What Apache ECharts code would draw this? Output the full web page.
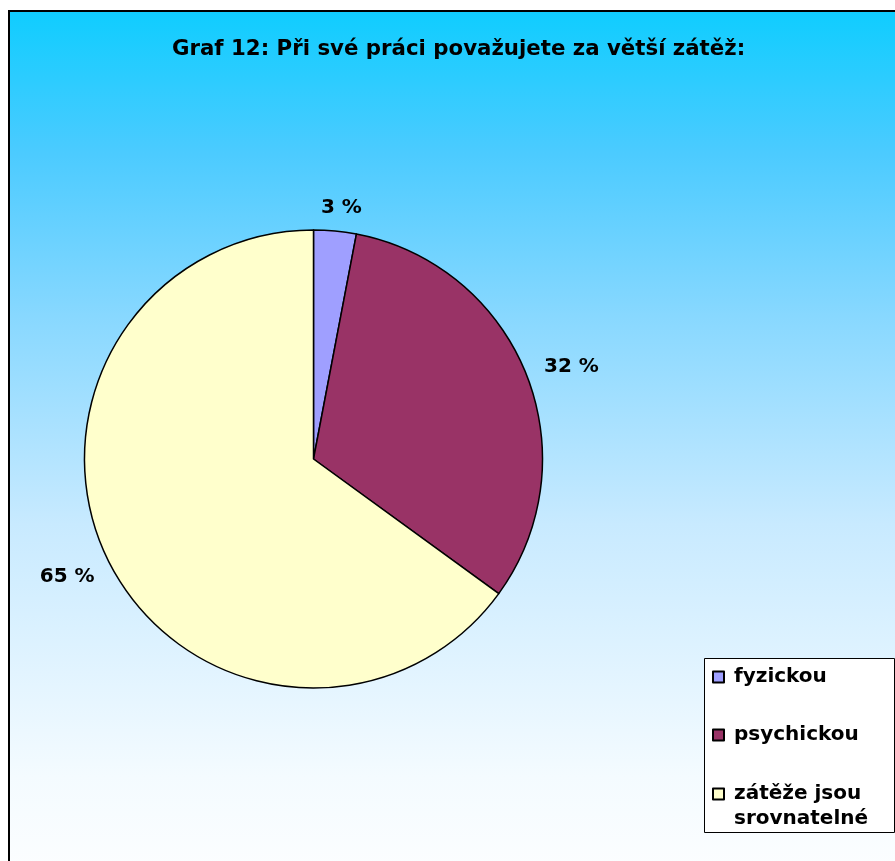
<!DOCTYPE html>
<html>
<head>
<meta charset="utf-8">
<style>
  html, body { margin: 0; padding: 0; background: #ffffff; }
  #chart { width: 895px; height: 861px; }
</style>
<script src="https://cdn.jsdelivr.net/npm/echarts@6/dist/echarts.min.js"></script>
</head>
<body>
<div id="chart"></div>
<script>
// Answers to: "Při své práci považujete za větší zátěž:"
const categories = ['fyzickou', 'psychickou', 'zátěže jsou srovnatelné'];
const shares = [3, 32, 65];
const legendText = ['fyzickou', 'psychickou', 'zátěže jsou\nsrovnatelné'];
const sliceColors = ['#9f9fff', '#993366', '#ffffcc'];

// Small nudges of the percentage labels away from their default outside spot
const labelShift = [[-21, -3], [-6, -1], [8, 5]];

const FONT = '"DejaVu Sans", Verdana, sans-serif';

const chart = echarts.init(document.getElementById('chart'), null, { renderer: 'canvas' });

const legendMap = {};
categories.forEach((c, i) => { legendMap[c] = legendText[i]; });

const legendTextStyle = {
  fontFamily: FONT,
  fontWeight: 'bold',
  fontSize: 20,
  color: '#000',
  lineHeight: 24,
  padding: [0, 0, 0, 5]
};

chart.setOption({
  animation: false,
  graphic: [
    {
      type: 'rect',
      z: -10,
      silent: true,
      shape: { x: 9, y: 11, width: 900, height: 900 },
      style: {
        fill: new echarts.graphic.LinearGradient(0, 0, 0, 1, [
          { offset: 0, color: '#0fcdff' },
          { offset: 0.16, color: '#4ccbff' },
          { offset: 0.34, color: '#88d8ff' },
          { offset: 0.57, color: '#c8eaff' },
          { offset: 0.85, color: '#f4fbff' },
          { offset: 1, color: '#ffffff' }
        ]),
        stroke: '#000',
        lineWidth: 2
      }
    },
    {
      type: 'rect',
      z: 3,
      silent: true,
      shape: { x: 704.5, y: 658.5, width: 190, height: 174 },
      style: { fill: '#ffffff', stroke: '#000', lineWidth: 1 }
    }
  ],
  title: {
    text: 'Graf 12: Při své práci považujete za větší zátěž:',
    left: 172,
    top: 39,
    padding: 0,
    textStyle: {
      fontFamily: FONT,
      fontWeight: 'bold',
      fontSize: 21.3,
      color: '#000'
    }
  },
  legend: [
    {
      orient: 'vertical',
      left: 712,
      top: 665,
      padding: 0,
      itemWidth: 11,
      itemHeight: 11,
      itemGap: 34,
      icon: 'rect',
      selectedMode: false,
      data: [categories[0], categories[1]],
      formatter: name => legendMap[name],
      textStyle: legendTextStyle
    },
    {
      orient: 'vertical',
      left: 712,
      top: 756.5,
      padding: 0,
      itemWidth: 11,
      itemHeight: 11,
      icon: 'rect',
      selectedMode: false,
      data: [categories[2]],
      // leading blank line keeps the first text line level with the swatch
      formatter: name => '\n' + legendMap[name],
      textStyle: Object.assign({}, legendTextStyle, { lineHeight: 25 })
    }
  ],
  series: [
    {
      type: 'pie',
      center: [313.5, 459],
      radius: 229,
      startAngle: 90,
      clockwise: true,
      avoidLabelOverlap: false,
      itemStyle: { borderColor: '#000', borderWidth: 1.5 },
      label: {
        show: true,
        position: 'outside',
        formatter: p => p.value + ' %',
        fontFamily: FONT,
        fontWeight: 'bold',
        fontSize: 20,
        color: '#000'
      },
      labelLine: { show: false, length: 20, length2: 0 },
      labelLayout: p => ({ dx: labelShift[p.dataIndex][0], dy: labelShift[p.dataIndex][1] }),
      emphasis: { disabled: true },
      data: categories.map((c, i) => ({
        name: c,
        value: shares[i],
        itemStyle: { color: sliceColors[i] }
      }))
    }
  ]
});
</script>
</body>
</html>
